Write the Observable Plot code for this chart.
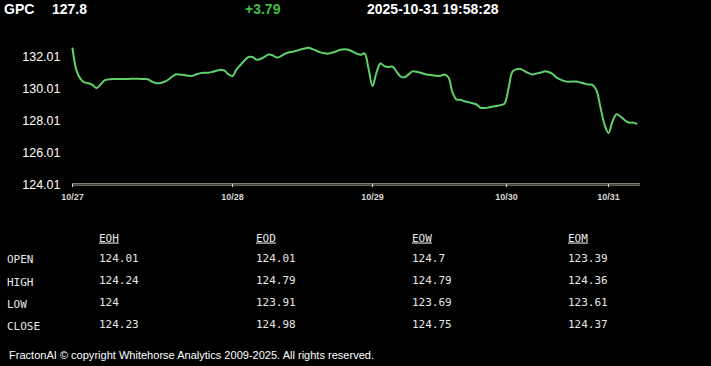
<!DOCTYPE html>
<html>
<head>
<meta charset="utf-8">
<script src="https://cdn.jsdelivr.net/npm/d3@7"></script>
<script src="https://cdn.jsdelivr.net/npm/@observablehq/plot@0.6"></script>
<style>
  html, body { margin: 0; padding: 0; background: #000; }
  #wrap { position: relative; width: 711px; height: 366px; overflow: hidden; background: #000; }
  #chart, #overlay { position: absolute; left: 0; top: 0; }
  #overlay { pointer-events: none; }
</style>
</head>
<body>
<div id="wrap">
  <div id="chart"></div>
  <svg id="overlay" width="711" height="366"></svg>
</div>
<script>
// ---- header ----
const symbol = "GPC";
const lastPrice = "127.8";
const change = "+3.79";
const timestamp = "2025-10-31 19:58:28";
const footer = "FractonAI \u00A9 copyright Whitehorse Analytics 2009-2025. All rights reserved.";

// ---- price series (one value per bar index) ----
const prices = [
  132.51, 131.14, 130.61, 130.39, 130.34, 130.23, 130.04, 130.26, 130.52, 130.58,
  130.60, 130.60, 130.61, 130.61, 130.61, 130.62, 130.62, 130.61, 130.60, 130.57,
  130.42, 130.34, 130.35, 130.43, 130.57, 130.77, 130.90, 130.87, 130.85, 130.80,
  130.80, 130.90, 130.97, 130.99, 131.00, 131.05, 131.12, 131.18, 131.12, 130.89,
  130.79, 131.20, 131.48, 131.76, 131.98, 131.98, 131.81, 131.85, 131.99, 132.13,
  132.09, 131.95, 132.02, 132.17, 132.26, 132.31, 132.37, 132.45, 132.51, 132.55,
  132.47, 132.37, 132.27, 132.21, 132.19, 132.26, 132.34, 132.43, 132.46, 132.43,
  132.32, 132.20, 132.12, 132.20, 131.26, 130.17, 131.01, 131.57, 131.40, 131.35,
  131.37, 131.07, 130.76, 130.71, 130.89, 131.08, 131.05, 131.00, 130.92, 130.87,
  130.84, 130.80, 130.80, 130.89, 130.70, 129.76, 129.32, 129.31, 129.21, 129.16,
  129.09, 129.01, 128.81, 128.79, 128.82, 128.87, 128.92, 128.97, 129.07, 130.01,
  131.07, 131.21, 131.23, 131.10, 130.97, 130.89, 130.95, 131.00, 131.08, 131.04,
  130.92, 130.70, 130.57, 130.47, 130.43, 130.45, 130.45, 130.38, 130.32, 130.26,
  130.24, 129.89, 128.82, 127.76, 127.23, 127.95, 128.40, 128.26, 128.04, 127.88,
  127.88, 127.81
];

// ---- axes ----
const dayLabels = ["10/27", "10/28", "10/29", "10/30", "10/31"];
const dayStart = [0, 40, 75, 108.5, 134];
const yTicks = [124.01, 126.01, 128.01, 130.01, 132.01];
const barCount = 142;

// ---- summary table ----
const periods = ["EOH", "EOD", "EOW", "EOM"];
const fields = ["OPEN", "HIGH", "LOW", "CLOSE"];
const eoh = [124.01, 124.24, 124, 124.23];
const eod = [124.01, 124.79, 123.91, 124.98];
const eow = [124.7, 124.79, 123.69, 124.75];
const eom = [123.39, 124.36, 123.61, 124.37];

const series = prices.map((v, i) => ({i, v}));

const chart = Plot.plot({
  width: 711,
  height: 210,
  marginLeft: 72,
  marginRight: 71,
  marginTop: 40,
  marginBottom: 26,
  style: {background: "transparent", color: "#ffffff", fontFamily: "'Liberation Sans', Arial, sans-serif", overflow: "visible"},
  x: {domain: [0, barCount], axis: null, label: null},
  y: {domain: [124.01, 133.01], axis: null, label: null},
  marks: [
    Plot.ruleY([124.01], {dy: -0.75, stroke: "#a9a895", strokeWidth: 1}),
    Plot.ruleY([124.01], {dy: 0.75, stroke: "#8d8c7c", strokeWidth: 1}),
    Plot.axisX(dayStart, {
      anchor: "bottom", label: null, tickSize: 3, tickPadding: 6, stroke: "#e0e0d8",
      tickFormat: d => dayLabels[dayStart.indexOf(d)],
      fontSize: 9, fontWeight: "bold", fill: "#d8d8d8"
    }),
    Plot.axisY(yTicks, {
      anchor: "left", label: null, tickSize: 0, tickPadding: 12,
      tickFormat: d => d.toFixed(2), fontSize: 12.5, fill: "#ffffff"
    }),
    Plot.line(series, {x: "i", y: "v", stroke: "#5fd26c", strokeWidth: 2, curve: "catmull-rom"})
  ]
});
document.getElementById("chart").appendChild(chart);

// ---- overlay texts ----
const ov = d3.select("#overlay");
const head = ov.append("g").attr("font-family", "'Liberation Sans', Arial, sans-serif")
  .attr("font-size", 14).attr("font-weight", "bold");
head.append("text").attr("x", 4).attr("y", 14).attr("fill", "#fff").text(symbol);
head.append("text").attr("x", 52).attr("y", 14).attr("fill", "#fff").text(lastPrice);
head.append("text").attr("x", 245).attr("y", 14).attr("fill", "#3fbf3f").text(change);
head.append("text").attr("x", 367).attr("y", 14).attr("fill", "#fff").text(timestamp);

const tbl = ov.append("g").attr("font-family", "'DejaVu Sans Mono', monospace")
  .attr("font-size", 11).attr("fill", "#e8e8e8");
const colX = [99, 256, 412, 568];
const rowY = [261.5, 284, 306, 328.3];
const colVals = [eoh, eod, eow, eom];
periods.forEach((p, c) => {
  tbl.append("text").attr("x", colX[c]).attr("y", 241.5)
    .style("text-decoration", "underline").text(p);
  colVals[c].forEach((v, r) => {
    tbl.append("text").attr("x", colX[c]).attr("y", rowY[r]).text(String(v));
  });
});
fields.forEach((f, r) => {
  tbl.append("text").attr("x", 7).attr("y", rowY[r] + 1.5).text(f);
});

ov.append("text").attr("x", 9).attr("y", 359)
  .attr("font-family", "'Liberation Sans', Arial, sans-serif").attr("font-size", 10.5)
  .attr("fill", "#fff").attr("textLength", 365).attr("lengthAdjust", "spacingAndGlyphs")
  .text(footer);
</script>
</body>
</html>
